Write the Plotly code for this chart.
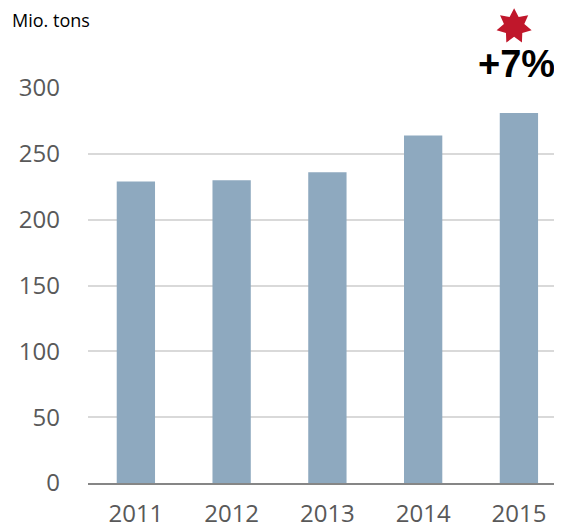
import math
import plotly.graph_objects as go

# Datos
anios = ["2011", "2012", "2013", "2014", "2015"]
volumen = [229, 230, 236, 264, 281]
ticks_y = [0, 50, 100, 150, 200, 250, 300]

fig = go.Figure()
fig.add_trace(go.Bar(
    x=anios,
    y=volumen,
    width=0.4,
    marker=dict(color="#8EA9BF", line=dict(width=0)),
))

# Estrella de 7 puntas sobre 2015 (x en categorias, y en papel)
cx, cy = 3.95, 1.156
rx, ry = 18 / 95.8, 18 / 395
ratio = 0.58
pts = []
for k in range(14):
    ang = math.pi / 2 + k * math.pi / 7
    r = 1 if k % 2 == 0 else ratio
    pts.append((cx + rx * r * math.cos(ang), cy + ry * r * math.sin(ang)))
path = "M " + " L ".join(f"{px:.4f},{py:.4f}" for px, py in pts) + " Z"
fig.add_shape(type="path", path=path, xref="x", yref="paper",
              fillcolor="#C0172B", line=dict(width=0), layer="above")

fig.add_annotation(text="<b>+7%</b>", xref="paper", yref="paper", x=0.99, y=1.061,
                   xanchor="right", yanchor="middle", showarrow=False,
                   font=dict(size=38, color="black", family="Liberation Sans"))

fig.add_annotation(text="Mio. tons", xref="paper", yref="paper", x=-0.165, y=1.172,
                   xanchor="left", yanchor="middle", showarrow=False,
                   font=dict(size=18, color="black", family="Open Sans"))

fig.update_layout(
    width=554, height=523,
    margin=dict(l=80, r=0, t=80, b=48),
    paper_bgcolor="white", plot_bgcolor="white",
    showlegend=False,
    font=dict(family="Open Sans", size=24, color="#595959"),
    xaxis=dict(range=[-0.5, 4.45], showgrid=False, showline=True,
               linecolor="#868686", linewidth=1.5, ticks="",
               ticklabelstandoff=8, tickfont=dict(size=24, color="#595959")),
    yaxis=dict(range=[0, 300], tickvals=ticks_y, showgrid=True,
               gridcolor="#D9D9D9", gridwidth=1.5, zeroline=False,
               ticks="", ticklabelstandoff=27,
               tickfont=dict(size=24, color="#595959")),
)

fig.write_html("out.html")
